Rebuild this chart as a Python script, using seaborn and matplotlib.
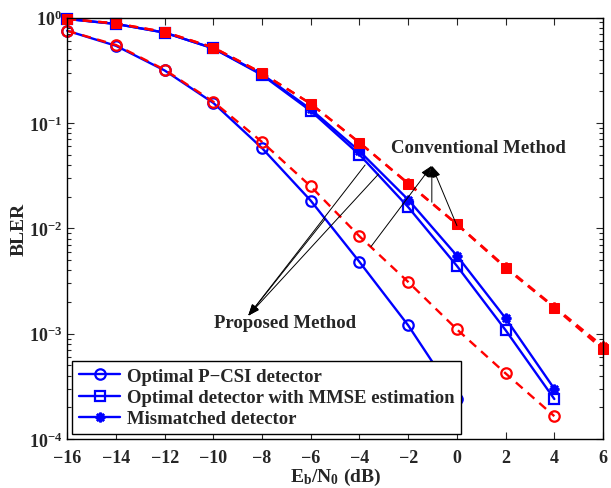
import matplotlib
matplotlib.use('Agg')
import matplotlib.pyplot as plt
import seaborn as sns

# Eb/N0 grid (dB)
snr = [-16, -14, -12, -10, -8, -6, -4, -2, 0, 2, 4]
snr_conv = [-16, -14, -12, -10, -8, -6, -4, -2, 0, 2, 4, 6]
snr_pcsi = [-16, -14, -12, -10, -8, -6, -4, -2, 0]

# proposed method (blue, solid)
bler_pcsi = [0.75, 0.54, 0.315, 0.155, 0.0577, 0.0183, 0.0048, 0.0012, 0.00024]
bler_mmse = [0.97, 0.87, 0.72, 0.51, 0.285, 0.13, 0.05, 0.0159, 0.0044, 0.00108, 0.00024]
bler_mism = [0.97, 0.87, 0.72, 0.51, 0.29, 0.135, 0.054, 0.0187, 0.0055, 0.0014, 0.0003]

# conventional method (red, dashed)
bler_pcsi_conv = [0.75, 0.55, 0.32, 0.159, 0.066, 0.025, 0.0084, 0.0031, 0.0011, 0.00042, 0.000165]
bler_mmse_conv = [0.97, 0.88, 0.73, 0.52, 0.297, 0.152, 0.065, 0.0265, 0.0109, 0.0042, 0.00177, 0.00071]
bler_mism_conv = [0.97, 0.88, 0.73, 0.52, 0.297, 0.152, 0.065, 0.0268, 0.011, 0.0043, 0.0018, 0.00076]

legend_labels = ['Optimal P\u2212CSI detector',
                 'Optimal detector with MMSE estimation',
                 'Mismatched detector']

sns.set_style('ticks')
plt.rcParams['font.family'] = ['Liberation Serif', 'DejaVu Serif']
plt.rcParams['font.weight'] = 'bold'
plt.rcParams['axes.labelweight'] = 'bold'
plt.rcParams['mathtext.fontset'] = 'custom'
plt.rcParams['mathtext.rm'] = 'Liberation Serif:bold'
plt.rcParams['mathtext.bf'] = 'Liberation Serif:bold'
plt.rcParams['mathtext.it'] = 'Liberation Serif:bold:italic'

fig = plt.figure(figsize=(6.11, 4.89), dpi=100)
ax = fig.add_axes([0.110, 0.100, 0.877, 0.862])

lw = 1.7
dash = (0, (3.8, 2.8))
asterisk = (8, 2, 0)

h1 = sns.lineplot(x=snr_pcsi, y=bler_pcsi, ax=ax, color='blue', lw=lw,
                  marker='o', markersize=7.5, mfc='none', mec='blue', mew=1.6,
                  clip_on=False).lines[-1]
h2 = sns.lineplot(x=snr, y=bler_mmse, ax=ax, color='blue', lw=lw,
                  marker='s', markersize=6.5, mfc='none', mec='blue', mew=1.6,
                  clip_on=False).lines[-1]
h3 = sns.lineplot(x=snr, y=bler_mism, ax=ax, color='blue', lw=lw,
                  marker=asterisk, markersize=7, mec='blue', mew=1.8,
                  clip_on=False).lines[-1]

# red dashed curves drawn over the blue ones
sns.lineplot(x=snr_conv, y=bler_mism_conv, ax=ax, color='red', lw=lw, linestyle=dash,
             marker=asterisk, markersize=7, mec='red', mew=1.8, clip_on=False)
sns.lineplot(x=snr_conv, y=bler_mmse_conv, ax=ax, color='red', lw=lw, linestyle=dash,
             marker='s', markersize=7, mfc='red', mec='red', clip_on=False)
sns.lineplot(x=snr, y=bler_pcsi_conv, ax=ax, color='red', lw=lw, linestyle=dash,
             marker='o', markersize=7.5, mfc='none', mec='red', mew=1.6, clip_on=False)

ax.set_yscale('log')
ax.set_xlim(-16, 6)
ax.set_ylim(1e-4, 1)
ax.set_xticks(range(-16, 7, 2))
ax.tick_params(which='both', direction='in', top=True, right=True, labelsize=13, width=0.8)
ax.tick_params(which='major', length=5)
ax.tick_params(which='minor', length=3)
ax.tick_params(axis='x', pad=7)
for lab in ax.get_xticklabels() + ax.get_yticklabels():
    lab.set_fontweight('bold')
for s in ax.spines.values():
    s.set_linewidth(1.0)
    s.set_color('black')

ax.set_xlabel(r'$\mathregular{E_b/N_0}$ (dB)', fontsize=14, fontweight='bold', labelpad=0)
ax.set_ylabel('BLER', fontsize=14, fontweight='bold', labelpad=1)

# annotations
arrow_kw = dict(arrowstyle='-|>,head_length=0.7,head_width=0.25', color='black', lw=0.7,
                shrinkA=0, shrinkB=0)
conv_tip = (-1.03, 0.0393)
for end in [(-1.03, 0.0177), (0.0, 0.0106), (-3.53, 0.0067)]:
    ax.annotate('', xy=conv_tip, xytext=end, arrowprops=arrow_kw)
ax.text(0.88, 0.059, 'Conventional Method', fontsize=13.5, fontweight='bold',
        ha='center', va='center')

prop_tip = (-8.57, 0.00148)
for end in [(-3.77, 0.0399), (-3.22, 0.0327), (-5.41, 0.01226)]:
    ax.annotate('', xy=prop_tip, xytext=end, arrowprops=arrow_kw)
ax.text(-7.06, 0.00128, 'Proposed Method', fontsize=13.5, fontweight='bold',
        ha='center', va='center')

leg = ax.legend([h1, h2, h3], legend_labels, loc='lower left',
                bbox_to_anchor=(0.0097, 0.012), borderaxespad=0, fancybox=False,
                framealpha=1, edgecolor='black', handlelength=2.2,
                handletextpad=0.35, labelspacing=0.22, borderpad=0.35,
                prop={'family': 'Liberation Serif', 'weight': 'bold', 'size': 13.5})
for t in leg.get_texts():
    t.set_fontweight('bold')
leg.get_frame().set_linewidth(1.0)
leg.set_zorder(10)

fig.savefig('out.png', dpi=100)
